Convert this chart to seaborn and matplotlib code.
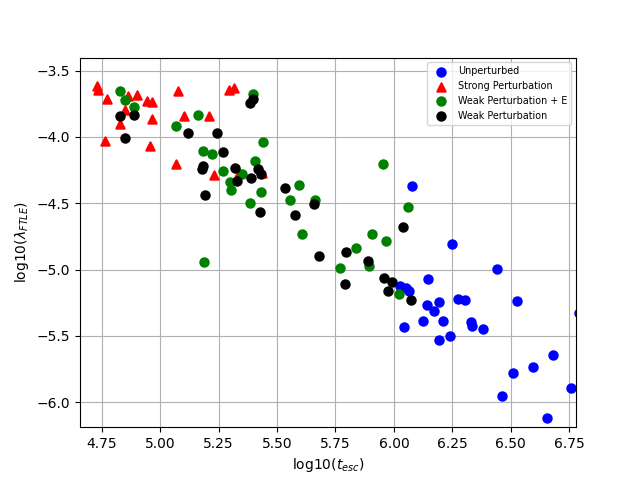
import matplotlib
matplotlib.use("Agg")
import matplotlib.pyplot as plt
import seaborn as sns

# log10(t_esc), log10(lambda_FTLE) for each run group
unpert_t = [6.077, 6.249, 6.442, 6.146, 6.024, 6.053, 6.064, 6.193, 6.142, 6.172,
            6.274, 6.302, 6.124, 6.210, 6.043, 6.329, 6.334, 6.382, 6.192, 6.239,
            6.527, 6.682, 6.595, 6.510, 6.759, 6.463, 6.656, 6.790]
unpert_l = [-4.369, -4.807, -4.997, -5.073, -5.124, -5.141, -5.159, -5.245, -5.269, -5.313,
            -5.224, -5.231, -5.388, -5.388, -5.435, -5.397, -5.423, -5.449, -5.532, -5.502,
            -5.237, -5.647, -5.736, -5.783, -5.897, -5.955, -6.123, -5.330]

strong_t = [4.731, 4.734, 4.774, 4.862, 4.902, 4.944, 4.964, 4.849, 4.967, 4.828,
            4.766, 4.957, 5.078, 5.102, 5.207, 5.069, 5.231, 5.295, 5.314, 5.338, 5.437]
strong_l = [-3.613, -3.649, -3.715, -3.694, -3.681, -3.730, -3.738, -3.795, -3.866, -3.900,
            -4.034, -4.070, -3.655, -3.845, -3.845, -4.205, -4.289, -3.647, -3.628, -4.270, -4.270]

weak_e_t = [4.828, 4.849, 4.890, 5.069, 5.160, 5.399, 5.438, 5.184, 5.220, 5.267,
            5.352, 5.405, 5.298, 5.305, 5.430, 5.386, 5.188, 5.596, 5.555, 5.663,
            5.605, 5.953, 6.060, 5.906, 5.966, 5.837, 5.770, 5.893, 6.021]
weak_e_l = [-3.653, -3.719, -3.772, -3.915, -3.835, -3.680, -4.039, -4.103, -4.127, -4.258,
            -4.278, -4.181, -4.342, -4.399, -4.415, -4.497, -4.945, -4.363, -4.477, -4.479,
            -4.733, -4.204, -4.530, -4.733, -4.787, -4.839, -4.989, -4.975, -5.181]

weak_t = [4.828, 4.889, 4.851, 5.117, 5.245, 5.395, 5.385, 5.267, 5.185, 5.181,
          5.318, 5.328, 5.387, 5.417, 5.431, 5.190, 5.425, 5.532, 5.575, 5.658,
          5.678, 5.794, 5.889, 6.038, 5.956, 5.992, 5.975, 5.790, 6.073]
weak_l = [-3.842, -3.835, -4.008, -3.968, -3.968, -3.715, -3.744, -4.114, -4.218, -4.244,
          -4.233, -4.333, -4.308, -4.242, -4.280, -4.438, -4.567, -4.386, -4.591, -4.507,
          -4.899, -4.871, -4.937, -4.682, -5.063, -5.097, -5.164, -5.111, -5.232]


fig, ax = plt.subplots(figsize=(6.4, 4.8), dpi=100)

pt = dict(s=36, edgecolor="face", linewidth=1.5, ax=ax)
sns.scatterplot(x=unpert_t, y=unpert_l, color="blue", marker="o", label="Unperturbed", **pt)
sns.scatterplot(x=strong_t, y=strong_l, color="red", marker="^", label="Strong Perturbation", **pt)
sns.scatterplot(x=weak_e_t, y=weak_e_l, color="green", marker="o", label="Weak Perturbation + E", **pt)
sns.scatterplot(x=weak_t, y=weak_l, color="black", marker="o", label="Weak Perturbation", **pt)

ax.set_xlim(4.657, 6.779)
ax.set_ylim(-6.189, -3.402)
ax.set_xlabel("log10($t_{esc}$)")
ax.set_ylabel("log10($\\lambda_{FTLE}$)")
ax.grid(True)
ax.set_axisbelow(True)
ax.legend(loc="upper right", fontsize="x-small")

fig.savefig("out.png", dpi=100)
